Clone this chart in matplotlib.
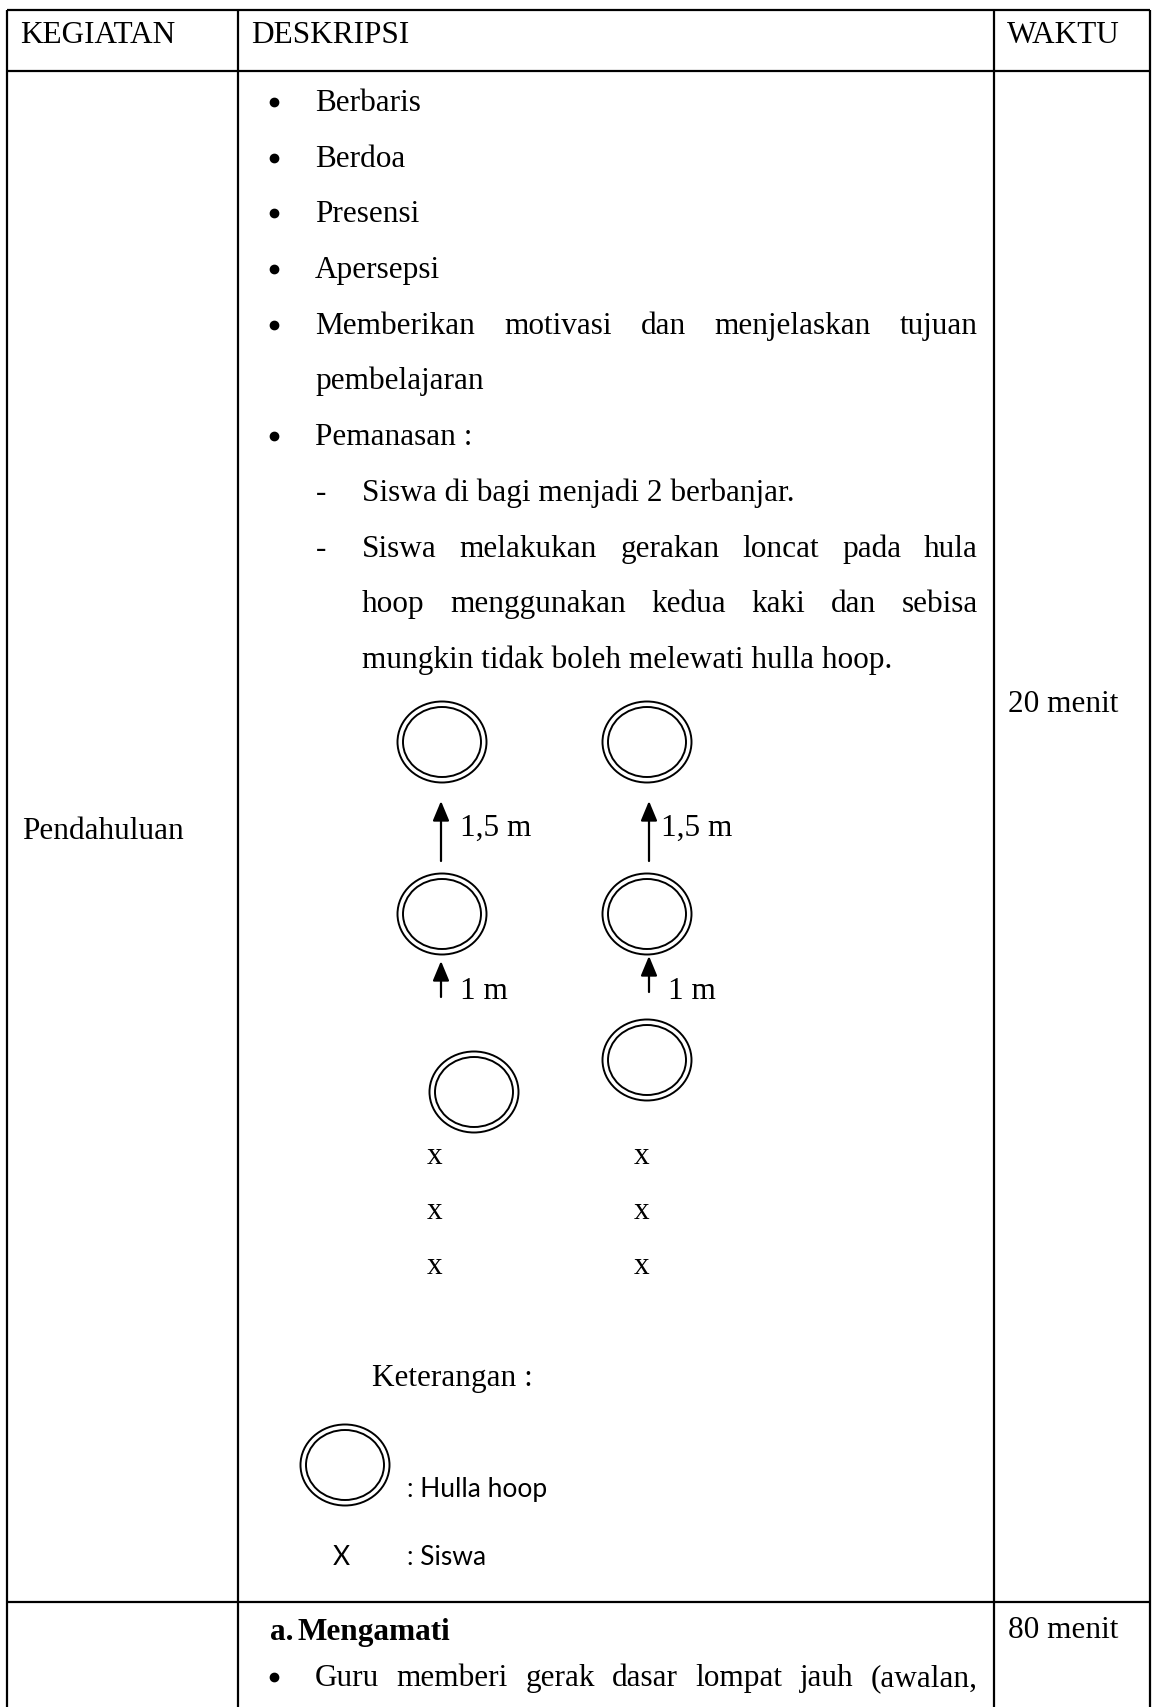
import matplotlib
matplotlib.use('Agg')
import matplotlib.pyplot as plt
from matplotlib.patches import Ellipse

# --- page content -------------------------------------------------------
headers = ['KEGIATAN', 'DESKRIPSI', 'WAKTU']
kegiatan = 'Pendahuluan'
waktu = ['20 menit', '80 menit']

bullet_items = ['Berbaris', 'Berdoa', 'Presensi', 'Apersepsi',
                'Memberikan motivasi dan menjelaskan tujuan']
bullet_cont = 'pembelajaran'
pemanasan = 'Pemanasan :'
sub_items = ['Siswa di bagi menjadi 2 berbanjar.',
             'Siswa melakukan gerakan loncat pada hula',
             'hoop menggunakan kedua kaki dan sebisa',
             'mungkin tidak boleh melewati hulla hoop.']
jarak = ['1,5 m', '1 m']
siswa_mark = 'x'
keterangan = 'Keterangan :'
legend_items = [': Hulla hoop', ': Siswa']
section_b = ['a.', 'Mengamati']
guru_line = 'Guru memberi gerak dasar lompat jauh (awalan,'

# --- figure -------------------------------------------------------------
W, H = 1156, 1708
fig = plt.figure(figsize=(W / 100, H / 100), dpi=100)
ax = fig.add_axes([0, 0, 1, 1])
ax.set_xlim(0, W)
ax.set_ylim(H, 0)
ax.axis('off')

SERIF = 'Liberation Serif'
SANS = 'Lato'
FS = 22.5
renderer = fig.canvas.get_renderer()


def txt(x, y, s, **kw):
    kw.setdefault('family', SERIF)
    kw.setdefault('fontsize', FS)
    return ax.text(x, y, s, va='baseline', ha=kw.pop('ha', 'left'), **kw)


def justify(x0, x1, y, line, **kw):
    words = line.split()
    objs = [txt(0, y, w, **kw) for w in words]
    widths = [o.get_window_extent(renderer).width for o in objs]
    gap = (x1 - x0 - sum(widths)) / (len(words) - 1)
    x = x0
    for o, w in zip(objs, widths):
        o.set_x(x)
        x += w + gap


def hoop(cx, cy):
    ax.add_patch(Ellipse((cx, cy), 89, 81, fill=False, lw=1.4, ec='black'))
    ax.add_patch(Ellipse((cx, cy), 78, 70, fill=False, lw=1.4, ec='black'))


def arrow(x, tail, tip):
    ax.annotate('', xy=(x, tip), xytext=(x, tail),
                arrowprops=dict(arrowstyle='-|>,head_length=0.6,head_width=0.25',
                                lw=1.6, color='black', mutation_scale=20,
                                shrinkA=0, shrinkB=0))


# table grid
LW = 1.6
for y in [11, 72, 1603]:
    ax.plot([7, 1150], [y, y], color='black', lw=LW, solid_capstyle='butt')
for x in [7, 238, 994, 1150]:
    ax.plot([x, x], [11, H], color='black', lw=LW, solid_capstyle='butt')

# header
txt(20, 43, headers[0])
txt(251, 43, headers[1])
txt(1007, 43, headers[2])

txt(22, 839, kegiatan)
txt(1008, 712, waktu[0])
txt(1008, 1638, waktu[1])

# bullet list
BX, TX, RX = 274, 315, 978
step = 55.7
y0 = 111
for i, item in enumerate(bullet_items):
    y = y0 + i * step
    ax.plot(BX, y - 8, 'o', color='black', ms=6)
    if i == len(bullet_items) - 1:
        justify(TX, RX, y, item)
    else:
        txt(TX, y, item)
txt(TX, y0 + 5 * step, bullet_cont)
ax.plot(BX, y0 + 6 * step - 8, 'o', color='black', ms=6)
txt(TX, y0 + 6 * step, pemanasan)

# sub list
SX, DX = 362, 316
txt(DX, y0 + 7 * step, '-')
txt(SX, y0 + 7 * step, sub_items[0])
txt(DX, y0 + 8 * step, '-')
justify(SX, RX, y0 + 8 * step, sub_items[1])
justify(SX, RX, y0 + 9 * step, sub_items[2])
txt(SX, y0 + 10 * step, sub_items[3])

# hula hoop diagram
hoop(442, 743)
hoop(647, 743)
hoop(442, 915)
hoop(647, 915)
hoop(474, 1093)
hoop(647, 1061)

arrow(441, 862, 802)
arrow(649, 862, 802)
arrow(441, 998, 962)
arrow(649, 993, 957)
txt(460, 836, jarak[0])
txt(661, 836, jarak[0])
txt(460, 999, jarak[1])
txt(668, 999, jarak[1])

for y in [1164, 1219, 1274]:
    txt(435, y, siswa_mark, ha='center')
    txt(642, y, siswa_mark, ha='center')

# legend
txt(372, 1386, keterangan)
hoop(345, 1466)
txt(407, 1497, legend_items[0], family=SANS, fontsize=19)
txt(341, 1565, 'X', family=SANS, fontsize=19, ha='center')
txt(407, 1565, legend_items[1], family=SANS, fontsize=19)

# next section
txt(270, 1640, section_b[0], weight='bold')
txt(297, 1640, section_b[1], weight='bold')
ax.plot(BX, 1686 - 8, 'o', color='black', ms=6)
justify(TX, RX, 1686, guru_line)

fig.savefig('out.png', dpi=100)
